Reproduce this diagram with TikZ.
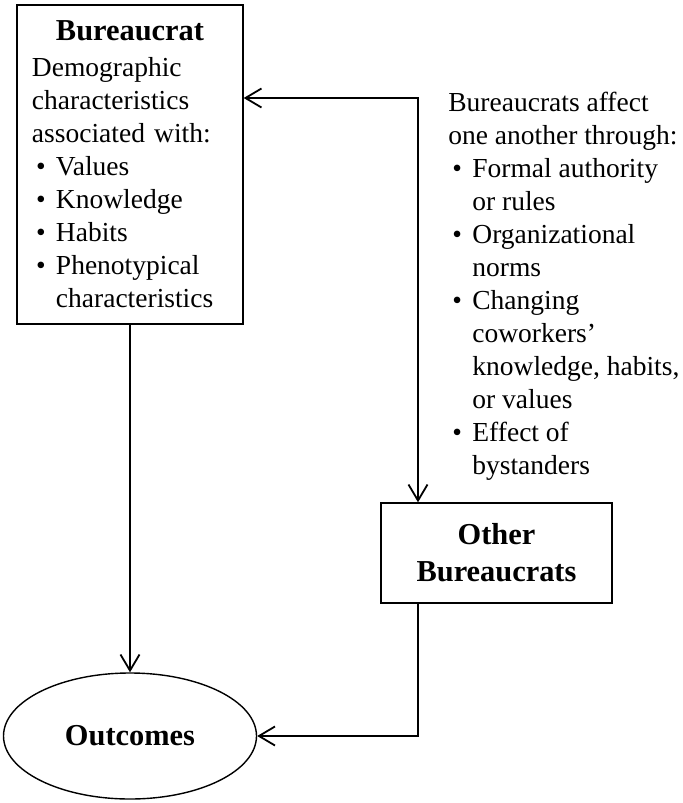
\documentclass[tikz,border=0pt]{standalone}
\usepackage{fontspec}
\setmainfont{Liberation Serif}
\usetikzlibrary{arrows.meta,shapes.geometric}

\newcommand{\bitem}[1]{\makebox[12pt][l]{\hspace{2pt}\textbullet}#1}
\newcommand{\bcont}[1]{\hspace*{12pt}#1}

\begin{document}
\begin{tikzpicture}[x=0.5pt, y=-0.5pt,
        >={Straight Barb[length=8pt,width=9.5pt]},
        box/.style = {shape=rectangle, draw, line width=0.7pt},
        title/.style = {font=\fontsize{15.2}{18.5}\selectfont\bfseries},
        body/.style = {font=\fontsize{13.75}{16.5}\selectfont},
        arr/.style = {line width=0.9pt}]
    \useasboundingbox (0,0) rectangle (682,803);

    \node[box, body, minimum width=113pt, minimum height=159.5pt,
          text width=98pt, inner xsep=7.5pt, align=left] (bur) at (130,164.5)
        {\makebox[98pt]{\fontsize{15.2}{18.5}\selectfont\bfseries Bureaucrat}\\[1.5pt]
         Demographic\\
         characteristics\\
         associated with:\\
         \bitem{Values}\\
         \bitem{Knowledge}\\
         \bitem{Habits}\\
         \bitem{Phenotypical}\\
         \bcont{characteristics}};

    \node[body, anchor=north west, inner sep=0pt, align=left] (ways) at (448,92)
        {Bureaucrats affect\\
         one another through:\\
         \bitem{Formal authority}\\
         \bcont{or rules}\\
         \bitem{Organizational}\\
         \bcont{norms}\\
         \bitem{Changing}\\
         \bcont{coworkers'}\\
         \bcont{knowledge, habits,}\\
         \bcont{or values}\\
         \bitem{Effect of}\\
         \bcont{bystanders}};

    \node[box, title, minimum width=115.5pt, minimum height=50pt,
          align=center] (others) at (496.5,553) {Other\\Bureaucrats};

    \node[draw, ellipse, title, line width=0.7pt, minimum width=126.5pt,
          minimum height=63pt] (out) at (130,736) {Outcomes};

    \coordinate (bend) at (418,98);

    \draw[arr, <->] (bur.east |- bend) -- (bend) -- (bend |- others.north);
    \draw[arr, ->] (bur) -- (out);
    \draw[arr, ->] (bend |- others.south) |- (out.east);
\end{tikzpicture}
\end{document}
